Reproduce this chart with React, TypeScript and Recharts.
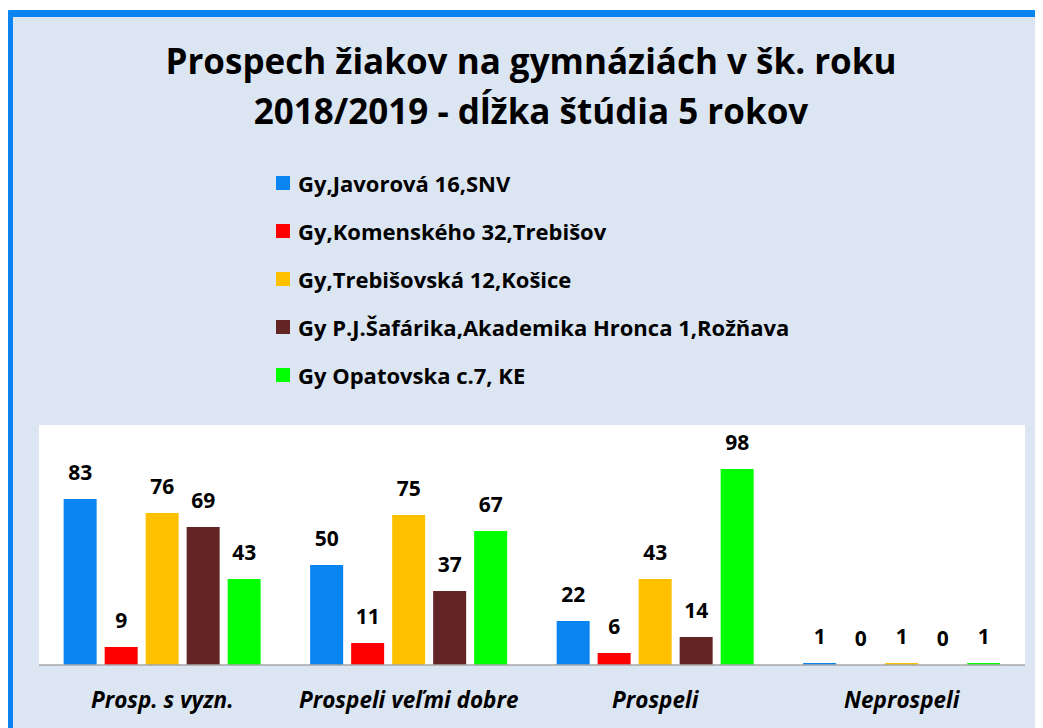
import React from 'react';
import { BarChart, Bar, XAxis, YAxis, CartesianGrid, Legend, LabelList } from 'recharts';

const categories = ['Prosp. s vyzn.', 'Prospeli veľmi dobre', 'Prospeli', 'Neprospeli'];
const schools = [
  'Gy,Javorová 16,SNV',
  'Gy,Komenského 32,Trebišov',
  'Gy,Trebišovská 12,Košice',
  'Gy P.J.Šafárika,Akademika Hronca 1,Rožňava',
  'Gy Opatovska c.7, KE',
];
const javorova = [83, 50, 22, 1];
const komenskeho = [9, 11, 6, 0];
const trebisovska = [76, 75, 43, 1];
const safarika = [69, 37, 14, 0];
const opatovska = [43, 67, 98, 1];
const colors = ['#0984f0', '#ff0000', '#ffc000', '#632523', '#00ff00'];

const seriesValues = [javorova, komenskeho, trebisovska, safarika, opatovska];
const keys = ['s0', 's1', 's2', 's3', 's4'];

const data = categories.map((c, i) => {
  const row: any = { name: c };
  keys.forEach((k, j) => {
    row[k] = seriesValues[j][i];
  });
  return row;
});

const FONT = '"Open Sans", sans-serif';

const CategoryTick = (props: any) => {
  const { x, y, payload } = props;
  return (
    <text x={x} y={y + 35} textAnchor="middle" fontFamily={FONT} fontSize={22.5} fontWeight={700} fontStyle="italic" fill="#000">
      {payload.value}
    </text>
  );
};

// value label above each bar, also drawn for zero values
const ValueLabel = (props: any) => {
  const { x, y, width, value } = props;
  if (value === undefined || value === null) return null;
  return (
    <text x={Number(x) + Number(width) / 2} y={Number(y) - 19} textAnchor="middle" fontFamily={FONT} fontSize={21} fontWeight={700} fill="#000">
      {value}
    </text>
  );
};

const LegendList = () => (
  <div>
    {schools.map((s, i) => (
      <div key={s} style={{ display: 'flex', alignItems: 'center', height: 48, fontFamily: FONT, fontSize: 22, fontWeight: 700, color: '#000' }}>
        <span style={{ width: 14, height: 14, background: colors[i], marginRight: 8, display: 'inline-block' }} />
        {s}
      </div>
    ))}
  </div>
);

const App: React.FC = () => {
  return (
    <div style={{ position: 'relative', width: 1035, height: 720, overflow: 'hidden' }}>
      <div
        style={{
          position: 'absolute',
          left: -2,
          top: 2,
          width: 1080,
          height: 760,
          border: '7px solid #0984f0',
          borderRadius: 4,
          background: '#dce6f2',
        }}
      />
      <div
        style={{
          position: 'absolute',
          left: 0,
          top: 28,
          width: 1046,
          textAlign: 'center',
          fontFamily: FONT,
          fontSize: 35,
          fontWeight: 700,
          lineHeight: '50px',
          color: '#000',
        }}
      >
        Prospech žiakov na gymnáziách v šk. roku
        <br />
        2018/2019 - dĺžka štúdia 5 rokov
      </div>
      <div style={{ position: 'absolute', left: 0, top: 0 }}>
        <BarChart
          width={1035}
          height={720}
          data={data}
          margin={{ top: 417, right: 18, bottom: 13, left: 31 }}
          barCategoryGap="10%"
          barGap={8}
        >
          <CartesianGrid fill="#ffffff" horizontal={false} vertical={false} />
          <XAxis dataKey="name" height={50} tickLine={false} axisLine={{ stroke: '#a6a6a6', strokeWidth: 1.5 }} tick={<CategoryTick />} interval={0} />
          <YAxis hide domain={[0, 120]} />
          <Legend
            layout="vertical"
            align="center"
            verticalAlign="middle"
            wrapperStyle={{ position: 'absolute', left: 268, top: 151, width: 620 }}
            content={<LegendList />}
          />
          {keys.map((k, i) => (
            <Bar key={k} dataKey={k} name={schools[i]} fill={colors[i]} minPointSize={0.01} isAnimationActive={false}>
              <LabelList dataKey={k} content={<ValueLabel />} />
            </Bar>
          ))}
        </BarChart>
      </div>
    </div>
  );
};

export default App;
